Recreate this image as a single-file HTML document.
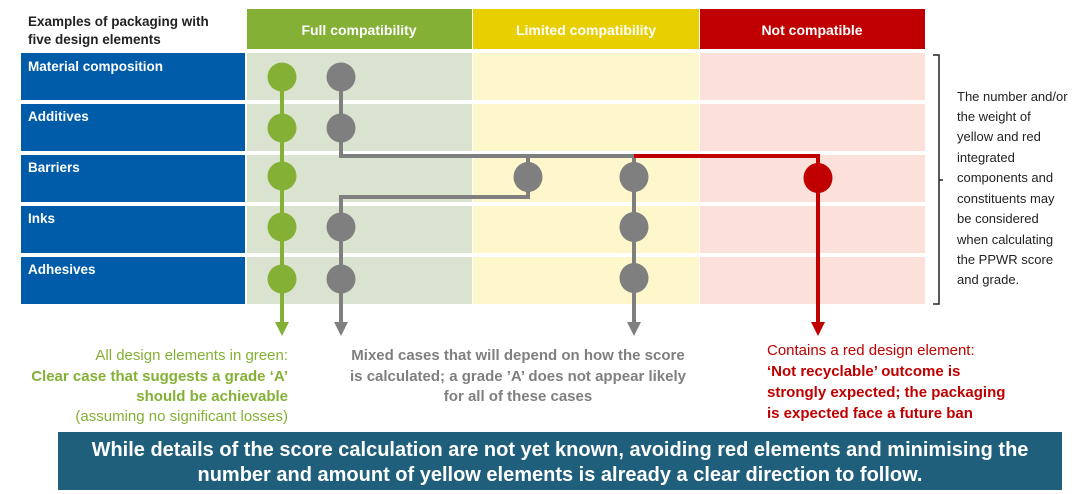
<!DOCTYPE html>
<html><head><meta charset="utf-8"><style>
html,body{margin:0;padding:0;background:#fff;}
svg{display:block;font-family:"Liberation Sans",Arial,sans-serif;}
.n{font-family:"Liberation Sans Narrow","Liberation Sans",sans-serif;}
</style></head><body>
<svg width="1080" height="494" viewBox="0 0 1080 494">
<text x="28" y="26" font-size="13.5" font-weight="bold" fill="#222">Examples of packaging with</text>
<text x="28" y="44" font-size="13.5" font-weight="bold" fill="#222">five design elements</text>
<rect x="247" y="9" width="225" height="40" fill="#84b035"/>
<rect x="473" y="9" width="226" height="40" fill="#e8cf00"/>
<rect x="700" y="9" width="225" height="40" fill="#c00000"/>
<text x="359" y="35" font-size="14" font-weight="bold" fill="#fff" text-anchor="middle">Full compatibility</text>
<text x="586" y="35" font-size="14" font-weight="bold" fill="#fff" text-anchor="middle">Limited compatibility</text>
<text x="812" y="35" font-size="14" font-weight="bold" fill="#fff" text-anchor="middle">Not compatible</text>
<g>
<rect x="21" y="53" width="224" height="47" fill="#005ca8"/>
<rect x="21" y="104" width="224" height="47" fill="#005ca8"/>
<rect x="21" y="155" width="224" height="47" fill="#005ca8"/>
<rect x="21" y="206" width="224" height="47" fill="#005ca8"/>
<rect x="21" y="257" width="224" height="47" fill="#005ca8"/>
</g>
<g font-size="13.5" font-weight="bold" fill="#fff">
<text x="28" y="71">Material composition</text>
<text x="28" y="121">Additives</text>
<text x="28" y="172">Barriers</text>
<text x="28" y="223">Inks</text>
<text x="28" y="274">Adhesives</text>
</g>
<g>
<rect x="247" y="53" width="225" height="47" fill="#dae3d0"/><rect x="473" y="53" width="226" height="47" fill="#fef7cc"/><rect x="700" y="53" width="225" height="47" fill="#fce0da"/>
<rect x="247" y="104" width="225" height="47" fill="#dae3d0"/><rect x="473" y="104" width="226" height="47" fill="#fef7cc"/><rect x="700" y="104" width="225" height="47" fill="#fce0da"/>
<rect x="247" y="155" width="225" height="47" fill="#dae3d0"/><rect x="473" y="155" width="226" height="47" fill="#fef7cc"/><rect x="700" y="155" width="225" height="47" fill="#fce0da"/>
<rect x="247" y="206" width="225" height="47" fill="#dae3d0"/><rect x="473" y="206" width="226" height="47" fill="#fef7cc"/><rect x="700" y="206" width="225" height="47" fill="#fce0da"/>
<rect x="247" y="257" width="225" height="47" fill="#dae3d0"/><rect x="473" y="257" width="226" height="47" fill="#fef7cc"/><rect x="700" y="257" width="225" height="47" fill="#fce0da"/>
</g>
<g fill="none" stroke-width="4">
<path d="M282 77 V325" stroke="#84b035"/>
<path d="M341 77 V156 H634" stroke="#7f7f7f"/>
<path d="M528 156 V197 H341 V325" stroke="#7f7f7f"/>
<path d="M634 156 V325" stroke="#7f7f7f"/>
<path d="M634 156 H818 V325" stroke="#c00000"/>
</g>
<polygon points="275,322 289,322 282,336" fill="#84b035"/>
<polygon points="334,322 348,322 341,336" fill="#7f7f7f"/>
<polygon points="627,322 641,322 634,336" fill="#7f7f7f"/>
<polygon points="811,322 825,322 818,336" fill="#c00000"/>
<g fill="#84b035">
<circle cx="282" cy="77" r="14.5"/><circle cx="282" cy="128" r="14.5"/><circle cx="282" cy="176" r="14.5"/><circle cx="282" cy="227" r="14.5"/><circle cx="282" cy="279" r="14.5"/>
</g>
<g fill="#7f7f7f">
<circle cx="341" cy="77" r="14.5"/><circle cx="341" cy="128" r="14.5"/><circle cx="341" cy="227" r="14.5"/><circle cx="341" cy="279" r="14.5"/>
<ellipse cx="528" cy="177" rx="14.5" ry="15"/><ellipse cx="634" cy="177" rx="14.5" ry="15"/><ellipse cx="634" cy="227" rx="14.5" ry="15"/><ellipse cx="634" cy="278" rx="14.5" ry="15"/>
</g>
<ellipse cx="818" cy="178" rx="14.5" ry="15" fill="#c00000"/>
<path d="M933 55 H939 V304 H933 M939 180 H943" fill="none" stroke="#222" stroke-width="1.5"/>
<g font-size="13" fill="#222">
<text x="957" y="101">The number and/or</text>
<text x="957" y="121">the weight of</text>
<text x="957" y="141">yellow and red</text>
<text x="957" y="162">integrated</text>
<text x="957" y="182">components and</text>
<text x="957" y="203">constituents may</text>
<text x="957" y="223">be considered</text>
<text x="957" y="244">when calculating</text>
<text x="957" y="264">the PPWR score</text>
<text x="957" y="284">and grade.</text>
</g>
<g class="n" font-size="15">
<text x="288" y="360" text-anchor="end" fill="#84b035">All design elements in green:</text>
<text x="288" y="381" text-anchor="end" fill="#84b035" font-weight="bold">Clear case that suggests a grade ‘A’</text>
<text x="288" y="401" text-anchor="end" fill="#84b035" font-weight="bold">should be achievable</text>
<text x="288" y="421" text-anchor="end" fill="#84b035">(assuming no significant losses)</text>
<text x="518" y="360" text-anchor="middle" fill="#7f7f7f" font-weight="bold">Mixed cases that will depend on how the score</text>
<text x="518" y="381" text-anchor="middle" fill="#7f7f7f" font-weight="bold">is calculated; a grade ’A’ does not appear likely</text>
<text x="518" y="401" text-anchor="middle" fill="#7f7f7f" font-weight="bold">for all of these cases</text>
<text x="767" y="355" fill="#c00000">Contains a red design element:</text>
<text x="767" y="376" fill="#c00000" font-weight="bold">‘Not recyclable’ outcome is</text>
<text x="767" y="397" fill="#c00000" font-weight="bold">strongly expected; the packaging</text>
<text x="767" y="418" fill="#c00000" font-weight="bold">is expected face a future ban</text>
</g>
<rect x="58" y="432" width="1004" height="58" fill="#1f5f7b"/>
<g class="n" font-size="20" font-weight="bold" fill="#fff" text-anchor="middle">
<text x="560" y="456">While details of the score calculation are not yet known, avoiding red elements and minimising the</text>
<text x="560" y="481">number and amount of yellow elements is already a clear direction to follow.</text>
</g>
</svg>
</body></html>
